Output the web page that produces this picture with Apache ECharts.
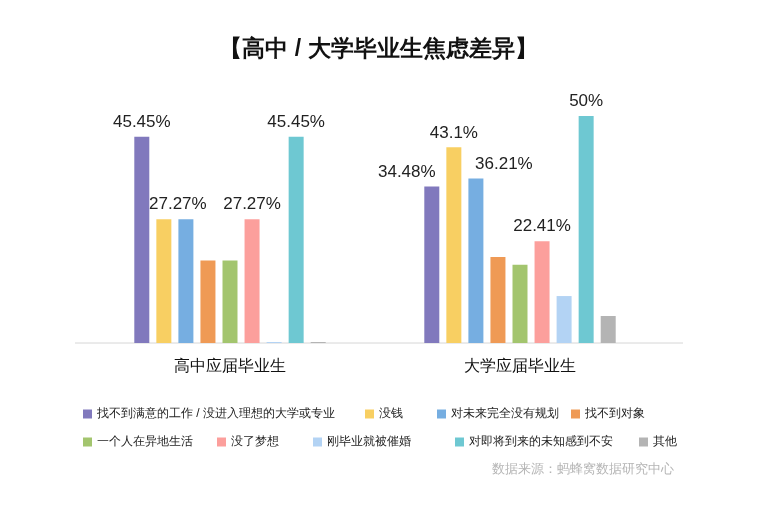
<!DOCTYPE html>
<html lang="zh">
<head>
<meta charset="UTF-8">
<title>焦虑差异</title>
<script src="https://cdn.jsdelivr.net/npm/echarts@6/dist/echarts.min.js"></script>
<style>
body { margin: 0; background: #fff; }
#chart { width: 757px; height: 509px; }
</style>
</head>
<body>
<div id="chart"></div>
<script>
var categories = ['高中应届毕业生', '大学应届毕业生'];
var seriesNames = ['找不到满意的工作 / 没进入理想的大学或专业', '没钱', '对未来完全没有规划', '找不到对象',
    '一个人在异地生活', '没了梦想', '刚毕业就被催婚', '对即将到来的未知感到不安', '其他'];
var colors = ['#8179bd', '#f8cf62', '#76aee1', '#ef9a55', '#a3c56e', '#fc9f9c', '#b3d3f4', '#6ec8d2', '#b4b4b4'];
var values = [
    [45.45, 34.48],
    [27.27, 43.1],
    [27.27, 36.21],
    [18.18, 18.97],
    [18.18, 17.24],
    [27.27, 22.41],
    [0, 10.34],
    [45.45, 50],
    [0, 5.95]
];
// which bars carry a value label, and how far it is nudged sideways
var showLabel = [
    [true, true],
    [true, true],
    [false, true],
    [false, false],
    [false, false],
    [true, true],
    [false, false],
    [true, true],
    [false, false]
];
var labelShift = [
    [0, -25],
    [14, 0],
    [0, 28],
    [0, 0],
    [0, 0],
    [0, 0],
    [0, 0],
    [0, 0],
    [0, 0]
];

var series = seriesNames.map(function (name, i) {
    return {
        name: name,
        type: 'bar',
        barWidth: 15,
        barGap: '47%',
        barMinHeight: 1,
        itemStyle: { color: colors[i] },
        data: values[i].map(function (v, j) {
            return {
                value: v,
                label: {
                    show: showLabel[i][j],
                    position: 'top',
                    distance: 6,
                    offset: [labelShift[i][j], 0],
                    color: '#222',
                    fontSize: 17,
                    formatter: function (p) { return p.value + '%'; }
                }
            };
        })
    };
});

var legendLefts = [78, 360, 432, 566, 78, 212, 308, 450, 634];
var legendTops = [403, 403, 403, 403, 431, 431, 431, 431, 431];
var legends = seriesNames.map(function (name, i) {
    return {
        left: legendLefts[i],
        top: legendTops[i],
        data: [name],
        icon: 'rect',
        itemWidth: 9,
        itemHeight: 9,
        textStyle: { fontSize: 12, color: '#222' },
        selectedMode: false
    };
});

var chart = echarts.init(document.getElementById('chart'));
chart.setOption({
    animation: false,
    title: {
        text: '【高中 / 大学毕业生焦虑差异】',
        left: 'center',
        top: 33,
        textStyle: { fontSize: 23, fontWeight: 'bold', color: '#111' }
    },
    graphic: [{
        type: 'line',
        shape: { x1: 75, y1: 343, x2: 683, y2: 343 },
        style: { stroke: '#d6d6d6', lineWidth: 1 }
    }, {
        type: 'text',
        left: 492,
        top: 463,
        style: { text: '数据来源：蚂蜂窝数据研究中心', fontSize: 13, fill: '#b5b5b5' }
    }],
    legend: legends,
    grid: { left: 85, right: 92, top: 116, bottom: 166 },
    xAxis: {
        type: 'category',
        data: categories,
        axisTick: { show: false },
        axisLine: { show: false },
        axisLabel: { fontSize: 16, color: '#111', margin: 16 }
    },
    yAxis: { type: 'value', min: 0, max: 50, show: false, splitLine: { show: false } },
    series: series
});
</script>
</body>
</html>
